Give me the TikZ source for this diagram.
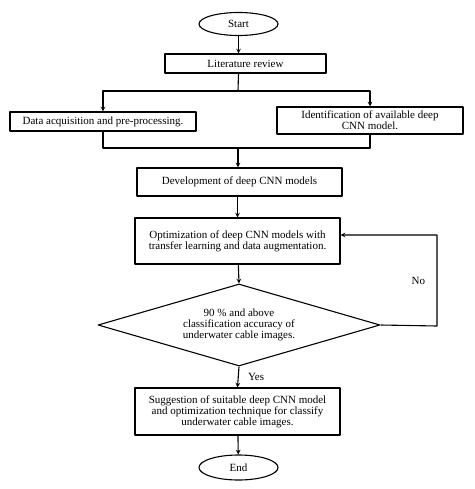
\documentclass[tikz,border=0pt]{standalone}
\usepackage{fontspec}
\setmainfont{Liberation Serif}
\usetikzlibrary{shapes.geometric}
\begin{document}
\begin{tikzpicture}[x=1pt, y=-1pt, font=\fontsize{11}{11}\selectfont, line join=round, >=stealth, line width=1.1pt,
box/.style={draw, rectangle, align=center, inner sep=2pt},
term/.style={draw, ellipse, minimum width=79pt, minimum height=23pt, inner sep=0pt}]
\useasboundingbox (0,0) rectangle (474,489);
\node[term] (start) at (238.5,24) {Start};
\node[box, minimum width=161pt, minimum height=19pt] (lit) at (245.5,63.5) {Literature review};
\node[box, minimum width=186pt, minimum height=19pt] (data) at (103,121.5) {Data acquisition and pre-processing.};
\node[box, minimum width=186pt, minimum height=27pt] (ident) at (370,120.5) {Identification of available deep\\CNN model.};
\node[box, minimum width=205pt, minimum height=28pt] (dev) at (239.5,182) {Development of deep CNN models};
\node[box, minimum width=205pt, minimum height=46pt] (opt) at (237.5,241) {Optimization of deep CNN models with\\transfer learning and data augmentation.};
\node[draw, diamond, aspect=3.4, inner sep=0pt, minimum width=282pt, minimum height=82pt, align=center] (dec) at (239,325) {90 \% and above\\classification accuracy of\\underwater cable images.};
\node[box, minimum width=205pt, minimum height=47pt] (sug) at (237.5,411.5) {Suggestion of suitable deep CNN model\\and optimization technique for classify\\underwater cable images.};
\node[term, minimum height=25pt] (end) at (238.5,467.5) {End};
\coordinate (split) at (238,91);
\coordinate (merge) at (238,148);
\coordinate (back) at (437,326);
\draw[->] (start) -- (start.south |- lit.north);
\draw (lit.south -| start) -- (split);
\draw[->] (split) -| (data.north);
\draw[->] (split) -| (ident.north);
\draw (data.south) |- (merge) -| (ident.south);
\draw[->] (merge) -- (merge |- dev.north);
\draw[->] (dev.south -| opt) -- (opt.north);
\draw[->] (opt) -- (dec.north);
\draw[->] (dec.east) -- (back) |- node[pos=0.25, left=8pt]{No} ([yshift=6pt]opt.east);
\draw[->] (dec.south) -- node[right=6pt]{Yes} (sug.north);
\draw[->] (sug) -- (end);
\end{tikzpicture}
\end{document}
